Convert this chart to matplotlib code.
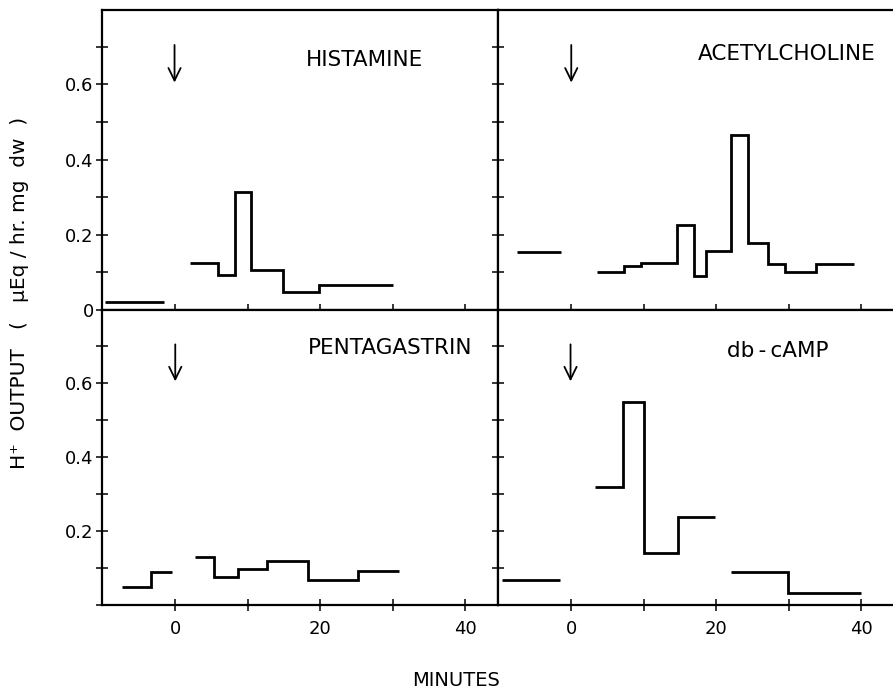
import matplotlib
matplotlib.use("Agg")
import matplotlib.pyplot as plt

# step-plot readings: each panel is a list of runs, each run has its bin edges (minutes)
# and the H+ output of every bin (uEq/hr.mg dw)
hist_edges = [[-9.7, -1.6], [2.0, 5.9, 8.3, 10.5, 14.9, 19.8, 30.0]]
hist_vals = [[0.020], [0.126, 0.093, 0.314, 0.107, 0.047, 0.066]]

ach_edges = [[-7.5, -1.4], [3.6, 7.3, 9.6, 14.6, 16.9, 18.6, 22.0, 24.3, 27.1, 29.5, 33.7, 39.0]]
ach_vals = [[0.153], [0.101, 0.117, 0.126, 0.225, 0.091, 0.157, 0.466, 0.177, 0.123, 0.101, 0.123]]

penta_edges = [[-7.3, -3.4, -0.5], [2.7, 5.4, 8.6, 12.7, 18.3, 25.2, 30.9]]
penta_vals = [[0.048, 0.088], [0.131, 0.077, 0.098, 0.120, 0.068, 0.093]]

camp_edges = [[-9.6, -1.5], [3.3, 7.2, 10.0, 14.7, 19.8], [22.0, 29.9, 40.0]]
camp_vals = [[0.067], [0.318, 0.549, 0.140, 0.237], [0.088, 0.032]]

titles = ["HISTAMINE", "ACETYLCHOLINE", "PENTAGASTRIN", "db\u2009-\u2009cAMP"]
title_x = [18.0, 17.4, 18.3, 21.5]
title_y = [0.665, 0.68, 0.695, 0.688]
arrow_x = [-0.1, 0.0, 0.0, -0.1]

x_ticks = [0, 10, 20, 30, 40]
x_labels = ["0", "", "20", "", "40"]
y_ticks = [0, 0.1, 0.2, 0.3, 0.4, 0.5, 0.6, 0.7]

fig = plt.figure(figsize=(8.93, 6.91), dpi=100)

W = 0.4435
pos = [
    [102 / 893, 1 - 310 / 691, W, 300 / 691],
    [498 / 893, 1 - 310 / 691, W, 300 / 691],
    [102 / 893, 1 - 605 / 691, W, 295 / 691],
    [498 / 893, 1 - 605 / 691, W, 295 / 691],
]
data = [(hist_edges, hist_vals), (ach_edges, ach_vals),
        (penta_edges, penta_vals), (camp_edges, camp_vals)]

for i in range(4):
    ax = fig.add_axes(pos[i])
    edges, vals = data[i]
    for e, v in zip(edges, vals):
        ax.stairs(v, e, baseline=None, color="k", lw=2.0, joinstyle="miter")

    ax.set_xlim(-10.1, 44.5)
    ax.set_ylim(0.004, 0.798)

    ax.annotate("", xy=(arrow_x[i], 0.605), xytext=(arrow_x[i], 0.705),
                arrowprops=dict(arrowstyle="->,head_length=0.45,head_width=0.22",
                                lw=1.3, color="k", mutation_scale=20,
                                shrinkA=0, shrinkB=0))
    ax.text(title_x[i], title_y[i], titles[i], fontsize=15.5, va="center", ha="left")

    for s in ax.spines.values():
        s.set_linewidth(1.6)
    if i % 2 == 1:
        ax.spines["right"].set_visible(False)

    ax.set_xticks(x_ticks)
    ax.set_yticks(y_ticks)
    ax.tick_params(direction="inout", length=9, width=1.1, labelsize=13)
    ax.tick_params(axis="x", pad=6)
    ax.tick_params(axis="y", pad=1.5)

    if i >= 2:
        ax.set_xticklabels(x_labels)
    else:
        ax.set_xticklabels([])
    if i == 0:
        ax.set_yticklabels(["0", "", "0.2", "", "0.4", "", "0.6", ""])
    elif i == 2:
        ax.set_yticklabels(["", "", "0.2", "", "0.4", "", "0.6", ""])
    else:
        ax.set_yticklabels([])

fig.text(456 / 893, 1 - 680 / 691, "MINUTES", fontsize=14, ha="center", va="center")
fig.text(20 / 893, 1 - 293 / 691, "H\u207a  OUTPUT   (   \u03bcEq / hr. mg  dw  )",
         fontsize=14.5, rotation=90, ha="center", va="center")

fig.savefig("out.png", dpi=100)
